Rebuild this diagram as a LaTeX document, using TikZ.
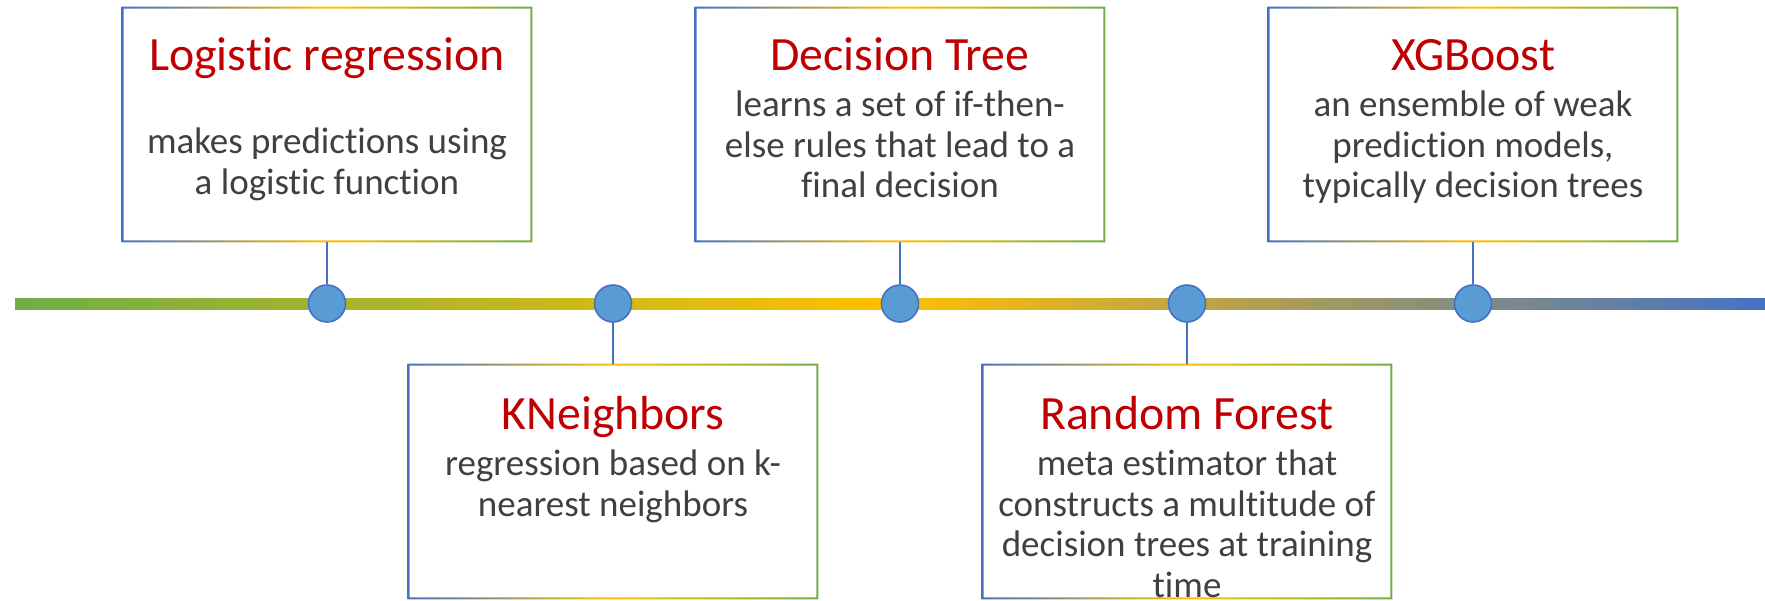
\documentclass[tikz,border=0pt]{standalone}
\usepackage{fontspec}
\setmainfont{Carlito}[Ligatures=NoCommon]
\definecolor{tred}{HTML}{C00000}
\definecolor{tgray}{HTML}{404040}
\definecolor{dblue}{HTML}{4472C4}
\definecolor{lblue}{HTML}{5B9BD5}
\definecolor{tgreen}{HTML}{70AD47}
\definecolor{tgold}{HTML}{FFC000}
\newcommand{\ttlfont}{\color{tred}\fontsize{23.9}{26}\selectfont}
\newcommand{\bdyfont}{\color{tgray}\fontsize{18.5}{20.3}\selectfont}
\begin{document}
\begin{tikzpicture}[x=0.5pt,y=-0.5pt,
  boxnode/.style={rectangle, minimum width=205pt, minimum height=117.5pt, inner sep=0pt, fill=white},
  ring/.style={left color=dblue, right color=tgreen, middle color=tgold, even odd rule},
  dot/.style={circle, minimum size=18.5pt, inner sep=0pt, fill=lblue, draw=dblue, line width=0.8pt},
  conn/.style={draw=dblue, line width=0.9pt},
  txt/.style={inner sep=0pt, anchor=base}]
\useasboundingbox (0,0) rectangle (1765,600);
% timeline
\coordinate (L) at (15,298);
\coordinate (R) at (1765,309);
\shade[left color=tgreen, right color=dblue, middle color=tgold] (L) rectangle (R);
% boxes
\node[boxnode] (b1) at (327,124.5) {};
\node[boxnode] (b2) at (613,481.5) {};
\node[boxnode] (b3) at (900,124.5) {};
\node[boxnode] (b4) at (1187,481.5) {};
\node[boxnode] (b5) at (1473,124.5) {};
\foreach \b in {b1,b2,b3,b4,b5}{
  \shade[ring] (\b.south west) rectangle (\b.north east)
    ([shift={(1pt,1pt)}]\b.south west) rectangle ([shift={(-1pt,-1pt)}]\b.north east);
}
% texts
\node[txt] (t1) at ([yshift=-32pt]b1.north) {\parbox[t]{200pt}{\leavevmode\centering\ttlfont Logistic regression\par\vspace{21.2pt}\bdyfont makes predictions using\\a logistic function\par}};
\node[txt] (t2) at ([yshift=-33pt]b2.north) {\parbox[t]{200pt}{\leavevmode\centering\ttlfont KNeighbors\par\vspace{2.7pt}\bdyfont regression based on k-\\nearest neighbors\par}};
\node[txt] (t3) at ([yshift=-32pt]b3.north) {\parbox[t]{200pt}{\leavevmode\centering\ttlfont Decision Tree\par\vspace{2.7pt}\bdyfont learns a set of if-then-\\else rules that lead to a\\final decision\par}};
\node[txt] (t4) at ([yshift=-33pt]b4.north) {\parbox[t]{200pt}{\leavevmode\centering\ttlfont Random Forest\par\vspace{2.7pt}\bdyfont meta estimator that\\constructs a multitude of\\decision trees at training\\time\par}};
\node[txt] (t5) at ([yshift=-32pt]b5.north) {\parbox[t]{200pt}{\leavevmode\centering\ttlfont XGBoost\par\vspace{2.7pt}\bdyfont an ensemble of weak\\prediction models,\\typically decision trees\par}};
% dots
\node[dot] (c1) at (327,303.5) {};
\node[dot] (c2) at (613,303.5) {};
\node[dot] (c3) at (900,303.5) {};
\node[dot] (c4) at (1187,303.5) {};
\node[dot] (c5) at (1473,303.5) {};
% connectors
\draw[conn] (b1.south) -- (c1.north);
\draw[conn] (c2.south) -- (b2.north);
\draw[conn] (b3.south) -- (c3.north);
\draw[conn] (c4.south) -- (b4.north);
\draw[conn] (b5.south) -- (c5.north);
\end{tikzpicture}
\end{document}
